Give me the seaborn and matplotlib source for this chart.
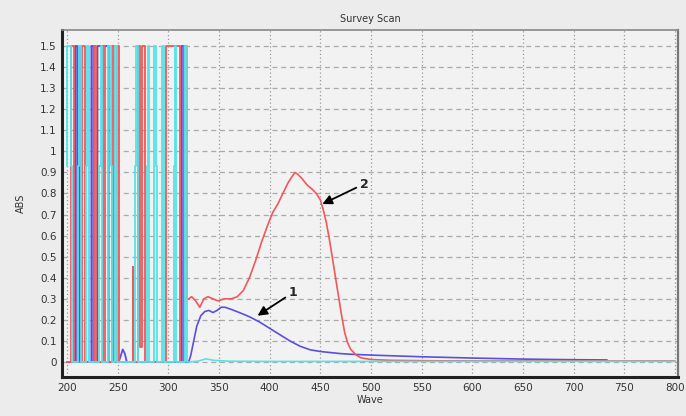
import numpy as np
import pandas as pd
import matplotlib
matplotlib.use("Agg")
import matplotlib.pyplot as plt
import seaborn as sns

# ---------------- data ----------------
# noisy (saturated) region 200-320 nm: vertices of the step traces
red_noise_x = [200, 204, 204, 207, 207, 215, 215, 218, 218, 227, 227, 229, 229, 235, 235, 237,
               237, 244, 244, 246, 246, 249, 249, 251, 251, 265, 265, 265, 270, 270, 272, 272,
               274, 274, 277, 277, 298, 298, 311, 311, 315, 315, 318, 318]
red_noise_y = [0, 0, 1.5, 1.5, 0, 0, 1.5, 1.5, 0, 0, 1.5, 1.5, 0, 0, 1.5, 1.5,
               0, 0, 1.5, 1.5, 0, 0, 1.5, 1.5, 0, 0, 0.45, 0, 0, 1.5, 1.5, 0.07,
               0.07, 1.5, 1.5, 0, 0, 1.5, 1.5, 0, 0, 1.5, 1.5, 0.3]

blue_noise_x = [200, 208, 208, 210, 210, 212, 212, 213, 213, 224, 224, 226, 226, 230, 230, 241,
                241, 251, 253, 255, 257, 259, 313, 313, 315, 315]
blue_noise_y = [0, 0, 1.5, 1.5, 0, 0, 1.5, 1.5, 0, 0, 1.5, 1.5, 0, 0, 1.5, 1.5,
                0, 0, 0.03, 0.06, 0.04, 0, 0, 1.5, 1.5, 0]

cyan_noise_x = [200, 200, 204, 204, 205, 205, 211, 211, 212, 212, 214, 214, 219, 219, 220, 220,
                222, 222, 232, 232, 233, 233, 234, 234, 240, 240, 243, 243, 244, 244, 247, 247,
                249, 249, 267, 267, 268, 268, 270, 270, 279, 279, 280, 280, 281, 281, 286, 286,
                288, 288, 289, 289, 294, 294, 296, 296, 306, 306, 307, 307, 308, 308, 316, 316,
                318, 318]
cyan_noise_y = [0.93, 1.5, 1.5, 0.93, 0.93, 0, 0, 0.93, 0.93, 1.5, 1.5, 0, 0, 0.93, 0.93, 1.5,
                1.5, 0, 0, 0.93, 0.93, 1.5, 1.5, 0, 0, 1.5, 1.5, 0.93, 0.93, 0, 0, 1.5,
                1.5, 0, 0, 0.93, 0.93, 1.5, 1.5, 0, 0, 0.93, 0.93, 1.5, 1.5, 0, 0, 1.5,
                1.5, 0.93, 0.93, 0, 0, 1.5, 1.5, 0, 0, 0.93, 0.93, 1.5, 1.5, 0, 0, 1.5,
                1.5, 0]

# smooth spectra 320-800 nm
red_x = [320, 323, 327, 331, 335, 339, 344, 349, 355, 362, 368, 374, 380, 386, 392, 398, 403,
         408, 413, 418, 422, 425, 428, 432, 437, 442, 446, 450, 453, 456, 459, 462, 465, 468,
         471, 474, 477, 480, 485, 490, 500, 520, 560, 600, 650, 700, 750, 800]
red_y = [0.30, 0.31, 0.29, 0.26, 0.30, 0.31, 0.30, 0.29, 0.30, 0.30, 0.31, 0.34, 0.40, 0.48,
         0.57, 0.65, 0.71, 0.75, 0.80, 0.85, 0.88, 0.90, 0.89, 0.87, 0.84, 0.82, 0.80, 0.77,
         0.72, 0.66, 0.58, 0.49, 0.40, 0.31, 0.22, 0.14, 0.09, 0.06, 0.035, 0.02, 0.012, 0.008,
         0.006, 0.005, 0.005, 0.005, 0.005, 0.005]

blue_x = [320, 322, 325, 328, 332, 336, 340, 344, 348, 352, 356, 362, 370, 380, 390, 400, 410,
          420, 430, 440, 450, 460, 470, 480, 500, 550, 600, 650, 700, 733]
blue_y = [0.0, 0.03, 0.10, 0.17, 0.22, 0.24, 0.245, 0.235, 0.245, 0.26, 0.26, 0.25, 0.235,
          0.215, 0.19, 0.16, 0.13, 0.10, 0.075, 0.058, 0.05, 0.045, 0.04, 0.037, 0.033, 0.025,
          0.019, 0.014, 0.011, 0.01]

cyan_x = [320, 330, 337, 345, 360, 400, 500, 600, 700, 800]
cyan_y = [0.0, 0.005, 0.015, 0.008, 0.004, 0.003, 0.003, 0.003, 0.003, 0.003]

x_ticks = [200, 250, 300, 350, 400, 450, 500, 550, 600, 650, 700, 750, 800]
y_ticks = [0, 0.1, 0.2, 0.3, 0.4, 0.5, 0.6, 0.7, 0.8, 0.9, 1, 1.1, 1.2, 1.3, 1.4, 1.5]
y_tick_labels = ["0", "0.1", "0.2", "0.3", "0.4", "0.5", "0.6", "0.7", "0.8", "0.9",
                 "1", "1.1", "1.2", "1.3", "1.4", "1.5"]

# ---------------- build tables ----------------
order = ["blue", "red", "cyan"]
noise_df = pd.concat([
    pd.DataFrame({"wave": blue_noise_x + [320], "abs": blue_noise_y + [blue_y[0]], "series": "blue"}),
    pd.DataFrame({"wave": red_noise_x + [320], "abs": red_noise_y + [red_y[0]], "series": "red"}),
    pd.DataFrame({"wave": cyan_noise_x + [320], "abs": cyan_noise_y + [cyan_y[0]], "series": "cyan"}),
], ignore_index=True)
smooth_df = pd.concat([
    pd.DataFrame({"wave": blue_x, "abs": blue_y, "series": "blue"}),
    pd.DataFrame({"wave": red_x, "abs": red_y, "series": "red"}),
    pd.DataFrame({"wave": cyan_x, "abs": cyan_y, "series": "cyan"}),
], ignore_index=True)

palette = {"blue": "#5a4fe0", "red": "#f0585a", "cyan": "#55e3e8"}

# ---------------- figure ----------------
sns.set_theme(style="white")
plt.rcParams["font.family"] = ["DejaVu Sans"]

fig = plt.figure(figsize=(6.86, 4.16), dpi=100)
fig.patch.set_facecolor("#ececec")
ax = fig.add_axes([62 / 686, 1 - 377 / 416, (678 - 62) / 686, (377 - 30) / 416])
ax.set_facecolor("#f2f2f2")

sns.lineplot(data=noise_df, x="wave", y="abs", hue="series", hue_order=order,
             palette=palette, sort=False, estimator=None, legend=False, lw=1.3, ax=ax)
sns.lineplot(data=smooth_df, x="wave", y="abs", hue="series", hue_order=order,
             palette=palette, sort=False, estimator=None, legend=False, lw=1.2, ax=ax)

ax.set_xlim(195, 803)
ax.set_ylim(-0.071, 1.576)
ax.set_xticks(x_ticks)
ax.set_yticks(y_ticks)
ax.set_yticklabels(y_tick_labels)
ax.tick_params(axis="both", labelsize=7.5, labelcolor="#333333", length=0, pad=4)

ax.xaxis.grid(True, linestyle=(0, (1, 2)), color="#999999", lw=0.9)
ax.yaxis.grid(True, linestyle=(0, (4, 3)), color="#aaaaaa", lw=0.9)
ax.set_axisbelow(True)

ax.spines["left"].set_color("#222222")
ax.spines["left"].set_linewidth(2.2)
ax.spines["bottom"].set_color("#222222")
ax.spines["bottom"].set_linewidth(2.2)
ax.spines["top"].set_color("#888888")
ax.spines["top"].set_linewidth(1.2)
ax.spines["right"].set_color("#777777")
ax.spines["right"].set_linewidth(1.6)

ax.set_title("Survey Scan", fontsize=7, color="#333333", pad=6)
ax.set_xlabel("Wave", fontsize=7, color="#333333", labelpad=2)
ax.set_ylabel("ABS", fontsize=7, color="#333333", labelpad=10)

arrow = dict(arrowstyle="-|>", color="black", lw=1.3, mutation_scale=14, shrinkA=0, shrinkB=0)
ax.annotate("1", xy=(388, 0.22), xytext=(423, 0.33), fontsize=9, fontweight="bold",
            ha="center", va="center", arrowprops=arrow)
ax.annotate("2", xy=(452, 0.75), xytext=(493, 0.845), fontsize=9, fontweight="bold",
            ha="center", va="center", arrowprops=arrow)

fig.savefig("out.png", dpi=100, facecolor=fig.get_facecolor())
